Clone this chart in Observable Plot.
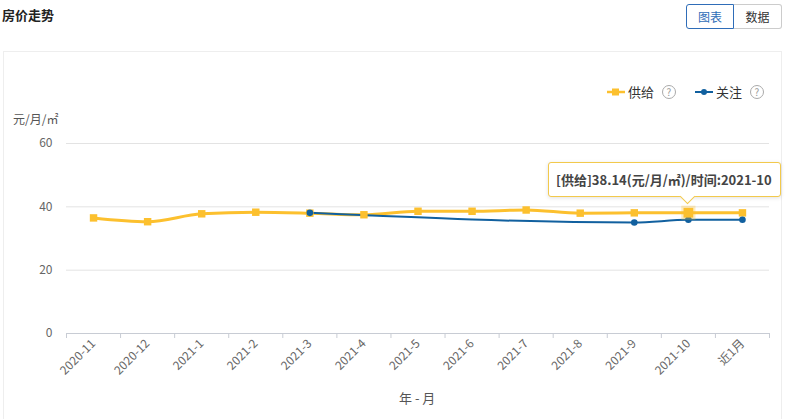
<!DOCTYPE html>
<html><head><meta charset="utf-8">
<script src="https://cdn.jsdelivr.net/npm/d3@7"></script>
<script src="https://cdn.jsdelivr.net/npm/@observablehq/plot@0.6"></script>
<style>
html,body{margin:0;padding:0;background:#fff}
body{width:787px;height:419px;overflow:hidden;position:relative;font-family:"Noto Sans CJK SC","Noto Sans",sans-serif;color:#333}
.abs{position:absolute}
#title{left:2px;top:5px;font-size:13px;font-weight:bold;color:#222}
.btn{top:4px;height:23px;line-height:23px;width:46px;text-align:center;font-size:12px;border:1px solid #ccc;box-sizing:content-box}
#b1{left:686px;border-color:#2f6db8;color:#2f6db8;border-radius:3px 0 0 3px;z-index:2}
#b2{left:734px;color:#333;border-left:none;border-radius:0 3px 3px 0;width:47px}
#panel{left:3px;top:51px;width:777px;height:400px;border:1px solid #eeeeee}
#chart{left:0;top:0}
.leg{top:83px;font-size:13px;color:#333;height:18px;line-height:18px}
.q{display:inline-block;width:12px;height:12px;border:1px solid #aaa;border-radius:50%;font-size:10px;line-height:12px;text-align:center;color:#999;vertical-align:middle;margin-top:-2px}
#unit{left:13px;top:110px;font-size:12px;color:#555}
#xlab{left:399px;top:388px;font-size:13px;color:#555}
#tip{left:548px;top:162px;height:33px;border:1px solid #f2c94c;border-radius:3px;background:#fff;box-shadow:0 1px 4px rgba(0,0,0,0.12);font-size:13px;font-weight:bold;color:#444;line-height:33px;padding-left:7px;box-sizing:content-box;width:224px}
#arrow{left:682px;top:191px;width:10px;height:10px;background:#fff;border-right:1px solid #f2c94c;border-bottom:1px solid #f2c94c;transform:rotate(45deg)}
</style></head><body>
<div id="panel" class="abs"></div>
<div id="title" class="abs">房价走势</div>
<div id="b1" class="abs btn">图表</div>
<div id="b2" class="abs btn">数据</div>
<div id="chart" class="abs"></div>
<div class="abs leg" style="left:607px"><svg width="18" height="18" style="vertical-align:top"><line x1="0" x2="18" y1="9" y2="9" stroke="#fcc02e" stroke-width="2.5"/><rect x="5" y="5.5" width="7" height="7" fill="#fcc02e"/></svg> 供给 <span class="q" style="margin-left:5px">?</span></div>
<div class="abs leg" style="left:695px"><svg width="18" height="18" style="vertical-align:top"><line x1="0" x2="18" y1="9" y2="9" stroke="#11609f" stroke-width="2"/><circle cx="9" cy="9" r="3" fill="#11609f"/></svg> 关注 <span class="q" style="margin-left:5px">?</span></div>
<div id="unit" class="abs">元/月/㎡</div>
<div id="xlab" class="abs">年 - 月</div>
<div id="tip" class="abs">[供给]38.14(元/月/㎡)/时间:2021-10</div>
<div id="arrow" class="abs"></div>
<script>
const months = ["2020-11","2020-12","2021-1","2021-2","2021-3","2021-4","2021-5","2021-6","2021-7","2021-8","2021-9","2021-10","近1月"];
const supply = [36.5, 35.3, 37.8, 38.3, 38.0, 37.5, 38.6, 38.6, 39.0, 38.0, 38.1, 38.14, 38.1];
const attention = [null, null, null, null, 38.1, null, null, null, null, null, 35.05, 35.9, 35.9];
const yTicks = [0, 20, 40, 60];
const highlightMonth = "2021-10";

const sData = months.map((m, i) => ({i, m, v: supply[i]}));
const aData = months.map((m, i) => ({i, m, v: attention[i]})).filter(d => d.v != null);
const hi = sData.filter(d => d.m === highlightMonth);
const idx = months.map((m, i) => i);
const bounds = [...idx.map(i => i - 0.5), months.length - 0.5];

const chart = Plot.plot({
  width: 787, height: 419,
  marginLeft: 66, marginRight: 18, marginTop: 143, marginBottom: 86,
  style: {background: "transparent", fontFamily: "'Noto Sans CJK SC','Noto Sans',sans-serif"},
  x: {domain: [-0.5, months.length - 0.5]},
  y: {domain: [0, 60]},
  marks: [
    Plot.gridY(yTicks.filter(t => t > 0), {stroke: "#e3e3e3", strokeOpacity: 1}),
    Plot.ruleY([0], {stroke: "#c8ccd4"}),
    Plot.axisY(yTicks, {tickSize: 0, tickPadding: 14, fontSize: 12, fill: "#666", label: null}),
    Plot.axisX(bounds, {tickSize: 5, stroke: "#c8ccd4", tickFormat: () => "", label: null}),
    Plot.axisX(idx, {tickSize: 0, tickPadding: 8, tickRotate: -45, tickFormat: i => months[i], fontSize: 12, fill: "#666", label: null}),
    Plot.line(sData, {x: "i", y: "v", stroke: "#fcc02e", strokeWidth: 3, curve: "monotone-x"}),
    Plot.line(aData, {x: "i", y: "v", stroke: "#11609f", strokeWidth: 2, curve: "monotone-x"}),
    Plot.dot(sData, {x: "i", y: "v", symbol: "square", r: 4.2, fill: "#fcc02e"}),
    Plot.dot(aData, {x: "i", y: "v", r: 3.3, fill: "#11609f"}),
    Plot.dot(hi, {x: "i", y: "v", symbol: "square", r: 8, fill: "#fcc02e", fillOpacity: 0.3}),
    Plot.dot(hi, {x: "i", y: "v", symbol: "square", r: 5.5, fill: "#fcc02e"})
  ]
});
document.getElementById("chart").appendChild(chart);
</script>
</body></html>
